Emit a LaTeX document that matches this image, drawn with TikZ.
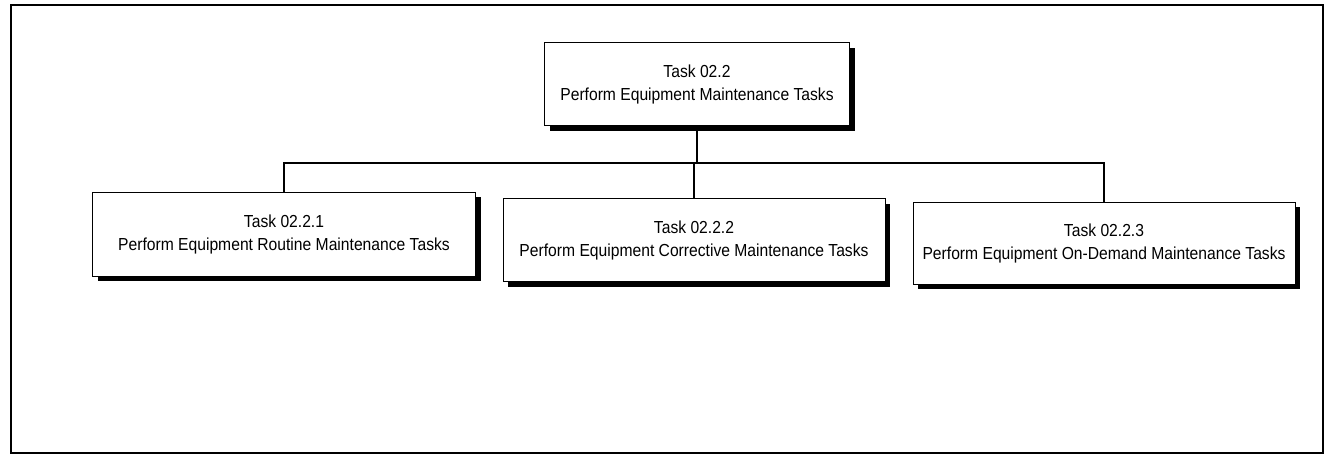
\documentclass[tikz,border=0pt]{standalone}
\usepackage{fontspec}
\newfontfamily\lab{Liberation Sans}[FakeStretch=0.9]
\usetikzlibrary{shadows}
\begin{document}
\begin{tikzpicture}[x=1pt,y=-1pt,
  taskbox/.style={draw=black, line width=1pt, fill=white, rectangle, align=center,
    font=\lab\fontsize{17.4}{23}\selectfont, inner sep=0pt,
    drop shadow={shadow xshift=5pt, shadow yshift=-5pt, fill=black, opacity=1}},
  conn/.style={draw=black, line width=1.8pt},
  frame/.style={draw=black, line width=2pt}]
\useasboundingbox (0,0) rectangle (1333,456);
\draw[frame] (11,5) rectangle (1323,453);
\node[taskbox, minimum width=305pt, minimum height=83pt] (top) at (697,84) {Task 02.2\\Perform Equipment Maintenance Tasks};
\node[taskbox, minimum width=383pt, minimum height=84pt] (b1) at (284,234) {Task 02.2.1\\Perform Equipment Routine Maintenance Tasks};
\node[taskbox, minimum width=382pt, minimum height=83pt] (b2) at (694,240) {Task 02.2.2\\Perform Equipment Corrective Maintenance Tasks};
\node[taskbox, minimum width=382pt, minimum height=82pt] (b3) at (1104,243) {Task 02.2.3\\Perform Equipment On-Demand Maintenance Tasks};
\coordinate (bus) at (697,163);
\draw[conn] (top.south) -- (top.south |- bus);
\draw[conn] (b1.north) |- (bus) -| (b3.north);
\draw[conn] (b2.north) -- (b2.north |- bus);
\end{tikzpicture}
\end{document}
